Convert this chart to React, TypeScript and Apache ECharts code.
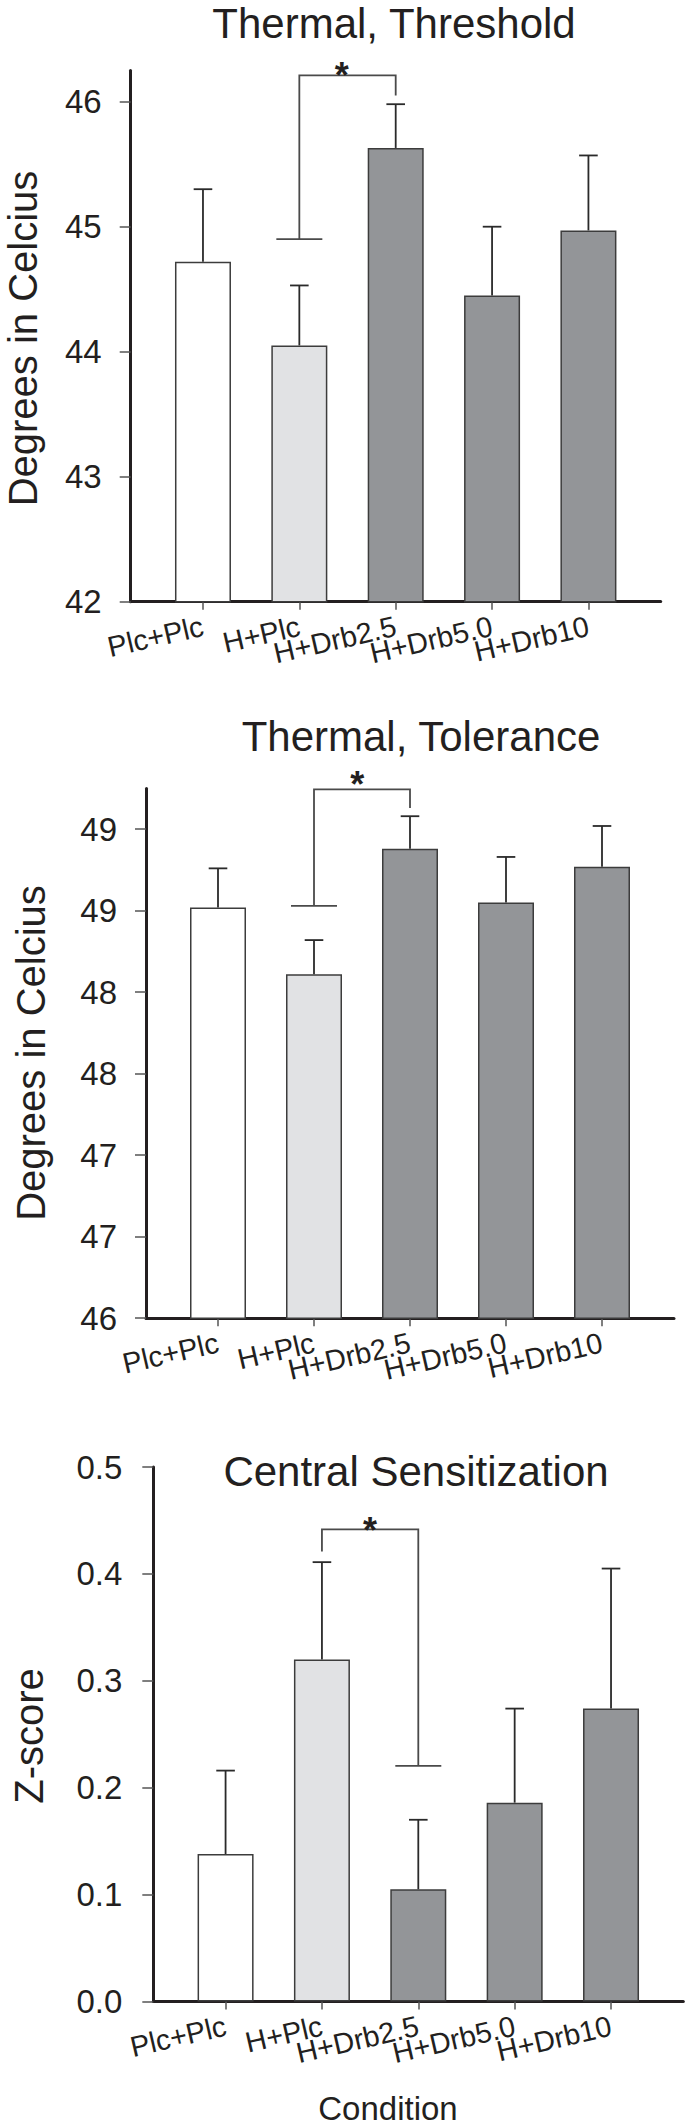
import React, { useEffect, useRef } from "react";
import * as echarts from "echarts";

const categories = ["Plc+Plc", "H+Plc", "H+Drb2.5", "H+Drb5.0", "H+Drb10"];
const barColors = ["#ffffff", "#e1e2e4", "#939598", "#939598", "#939598"];

const thresholdMeans = [44.72, 44.05, 45.63, 44.45, 44.97];
const thresholdUpper = [45.3, 44.53, 45.98, 45.0, 45.57];
const toleranceMeans = [48.52, 48.11, 48.88, 48.55, 48.77];
const toleranceUpper = [48.76, 48.32, 49.08, 48.83, 49.02];
const centralMeans = [0.138, 0.32, 0.105, 0.186, 0.274];
const centralUpper = [0.216, 0.411, 0.17, 0.274, 0.405];

const thresholdTicks = [42, 43, 44, 45, 46];
const toleranceTicks = [46, 46.5, 47, 47.5, 48, 48.5, 49];
const centralTicks = [0, 0.1, 0.2, 0.3, 0.4, 0.5];

// significance bracket: [fromIndex, toIndex, leftEnd, rightEnd, top]
const thresholdSig = [1, 2, 44.9, 46.05, 46.21];
const toleranceSig = [1, 2, 48.53, 49.13, 49.245];
const centralSig = [1, 2, 0.421, 0.2204, 0.4417];
// star annotation position [x, y] in data units
const thresholdStar = [1.44, 46.28];
const toleranceStar = [1.45, 49.326];
const centralStar = [1.5, 0.4486];

const FONT = "'Liberation Sans', Arial, Helvetica, sans-serif";
const INK = "#231f20";

type Panel = {
  title: string;
  titleX: number;
  titleY: number;
  yName: string;
  nameX: number;
  nameY: number;
  left: number;
  top: number;
  width: number;
  height: number;
  min: number;
  max: number;
  ticks: number[];
  fmt: (v: number) => string;
  labelMargin: number;
  means: number[];
  upper: number[];
  sig: number[];
  star: number[];
};

const panels: Panel[] = [
  {
    title: "Thermal, Threshold",
    titleX: 394,
    titleY: 23.5,
    yName: "Degrees in Celcius",
    nameX: 22.5,
    nameY: 338.5,
    left: 130.7,
    top: 70.45,
    width: 530,
    height: 531.25,
    min: 42,
    max: 46.25,
    ticks: thresholdTicks,
    fmt: (v) => String(v),
    labelMargin: 29,
    means: thresholdMeans,
    upper: thresholdUpper,
    sig: thresholdSig,
    star: thresholdStar,
  },
  {
    title: "Thermal, Tolerance",
    titleX: 421,
    titleY: 736,
    yName: "Degrees in Celcius",
    nameX: 31,
    nameY: 1053,
    left: 146,
    top: 788.5,
    width: 528,
    height: 529.7,
    min: 46,
    max: 49.25,
    ticks: toleranceTicks,
    fmt: (v) => String(Math.round(v)),
    labelMargin: 29,
    means: toleranceMeans,
    upper: toleranceUpper,
    sig: toleranceSig,
    star: toleranceStar,
  },
  {
    title: "Central Sensitization",
    titleX: 416,
    titleY: 1471,
    yName: "Z-score",
    nameX: 29,
    nameY: 1736,
    left: 153.3,
    top: 1467,
    width: 530,
    height: 534.5,
    min: 0,
    max: 0.5,
    ticks: centralTicks,
    fmt: (v) => v.toFixed(1),
    labelMargin: 31,
    means: centralMeans,
    upper: centralUpper,
    sig: centralSig,
    star: centralStar,
  },
];

function buildOption() {
  const grid: any[] = [];
  const xAxis: any[] = [];
  const yAxis: any[] = [];
  const series: any[] = [];
  const graphic: any[] = [];
  const idx = categories.map((_, i) => i);

  panels.forEach((p, k) => {
    grid.push({
      left: p.left,
      top: p.top,
      width: p.width,
      height: p.height,
      containLabel: false,
      outerBoundsMode: "none",
    });
    xAxis.push({
      type: "value",
      gridIndex: k,
      min: -0.75,
      max: 4.75,
      axisLine: { show: true, onZero: false, lineStyle: { color: INK, width: 3 } },
      axisTick: { show: true, customValues: idx, length: 8, lineStyle: { color: "#555", width: 1.5 } },
      axisLabel: { show: false },
      splitLine: { show: false },
    });
    yAxis.push({
      type: "value",
      gridIndex: k,
      min: p.min,
      max: p.max,
      axisLine: { show: true, onZero: false, lineStyle: { color: INK, width: 3 } },
      axisTick: { show: true, customValues: p.ticks, length: 11, lineStyle: { color: "#555", width: 1.5 } },
      axisLabel: {
        show: true,
        customValues: p.ticks,
        showMinLabel: true,
        showMaxLabel: true,
        hideOverlap: false,
        formatter: (v: number) => p.fmt(v),
        margin: p.labelMargin,
        fontSize: 33,
        fontFamily: FONT,
        color: INK,
      },
      splitLine: { show: false },
    });
    series.push({
      type: "bar",
      xAxisIndex: k,
      yAxisIndex: k,
      barWidth: 56,
      data: p.means.map((v, i) => ({
        value: [i, v],
        itemStyle: { color: barColors[i], borderColor: "#3c3c3c", borderWidth: 1.5 },
      })),
      z: 2,
    });
    // category labels under the x axis, placed through the axis scale
    series.push({
      type: "custom",
      xAxisIndex: k,
      yAxisIndex: k,
      clip: false,
      silent: true,
      z: 5,
      encode: { x: 0, y: 1 },
      data: idx.map((i) => [i, p.min]),
      renderItem: (params: any, api: any) => {
        const c = api.coord([api.value(0), api.value(1)]);
        return {
          type: "text",
          x: c[0],
          y: c[1] + 24,
          rotation: (13 * Math.PI) / 180,
          style: {
            text: categories[params.dataIndex],
            fontSize: 29,
            fontFamily: FONT,
            fill: INK,
            align: "right",
            verticalAlign: "middle",
          },
        };
      },
    });
    series.push({
      type: "custom",
      xAxisIndex: k,
      yAxisIndex: k,
      clip: false,
      z: 3,
      encode: { x: 0, y: [1, 2] },
      data: p.means.map((v, i) => [i, v, p.upper[i]]),
      renderItem: (params: any, api: any) => {
        const x = api.value(0);
        const a = api.coord([x, api.value(1)]);
        const b = api.coord([x, api.value(2)]);
        const st = { stroke: "#2a2a2a", lineWidth: 1.8 };
        return {
          type: "group",
          children: [
            { type: "line", shape: { x1: a[0], y1: a[1], x2: b[0], y2: b[1] }, style: st },
            { type: "line", shape: { x1: b[0] - 9.3, y1: b[1], x2: b[0] + 9.3, y2: b[1] }, style: st },
          ],
        };
      },
    });
    series.push({
      type: "custom",
      xAxisIndex: k,
      yAxisIndex: k,
      clip: false,
      z: 4,
      encode: { x: 0, y: 2 },
      data: [[p.sig[0], p.sig[1], p.sig[2], p.sig[3], p.sig[4], p.star[0], p.star[1]]],
      renderItem: (params: any, api: any) => {
        const from = api.value(0);
        const to = api.value(1);
        const lEnd = api.value(2);
        const rEnd = api.value(3);
        const top = api.value(4);
        const pl = api.coord([from, lEnd]);
        const plt = api.coord([from, top]);
        const prt = api.coord([to, top]);
        const pr = api.coord([to, rEnd]);
        const s = api.coord([api.value(5), api.value(6)]);
        const st = { stroke: "#4a4a4a", lineWidth: 1.8, fill: null };
        const capAt = lEnd < rEnd ? pl : pr;
        const fs = 36;
        return {
          type: "group",
          children: [
            { type: "polyline", shape: { points: [pl, plt, prt, pr] }, style: st },
            {
              type: "line",
              shape: { x1: capAt[0] - 23, y1: capAt[1], x2: capAt[0] + 23, y2: capAt[1] },
              style: st,
            },
            {
              type: "text",
              x: s[0],
              y: s[1] + 0.24 * fs,
              style: {
                text: "*",
                fontSize: fs,
                fontWeight: "bold",
                fontFamily: FONT,
                fill: INK,
                align: "center",
                verticalAlign: "middle",
              },
            },
          ],
        };
      },
    });
    graphic.push({
      type: "text",
      x: p.titleX,
      y: p.titleY,
      style: {
        text: p.title,
        fontSize: 42,
        fontFamily: FONT,
        fill: INK,
        align: "center",
        verticalAlign: "middle",
      },
    });
    graphic.push({
      type: "text",
      x: p.nameX,
      y: p.nameY,
      rotation: Math.PI / 2,
      style: {
        text: p.yName,
        fontSize: 40,
        fontFamily: FONT,
        fill: INK,
        align: "center",
        verticalAlign: "middle",
      },
    });
  });

  graphic.push({
    type: "text",
    x: 388,
    y: 2108.5,
    style: {
      text: "Condition",
      fontSize: 33,
      fontFamily: FONT,
      fill: INK,
      align: "center",
      verticalAlign: "middle",
    },
  });

  return {
    animation: false,
    backgroundColor: "#ffffff",
    grid,
    xAxis,
    yAxis,
    series,
    graphic,
  };
}

export default function App() {
  const ref = useRef<HTMLDivElement>(null);
  useEffect(() => {
    if (!ref.current) return;
    const chart = echarts.init(ref.current, undefined, { renderer: "svg" });
    chart.setOption(buildOption() as any);
    return () => chart.dispose();
  }, []);
  return (
    <div
      ref={ref}
      style={{ position: "absolute", left: 0, top: 0, width: 685, height: 2127 }}
    />
  );
}
